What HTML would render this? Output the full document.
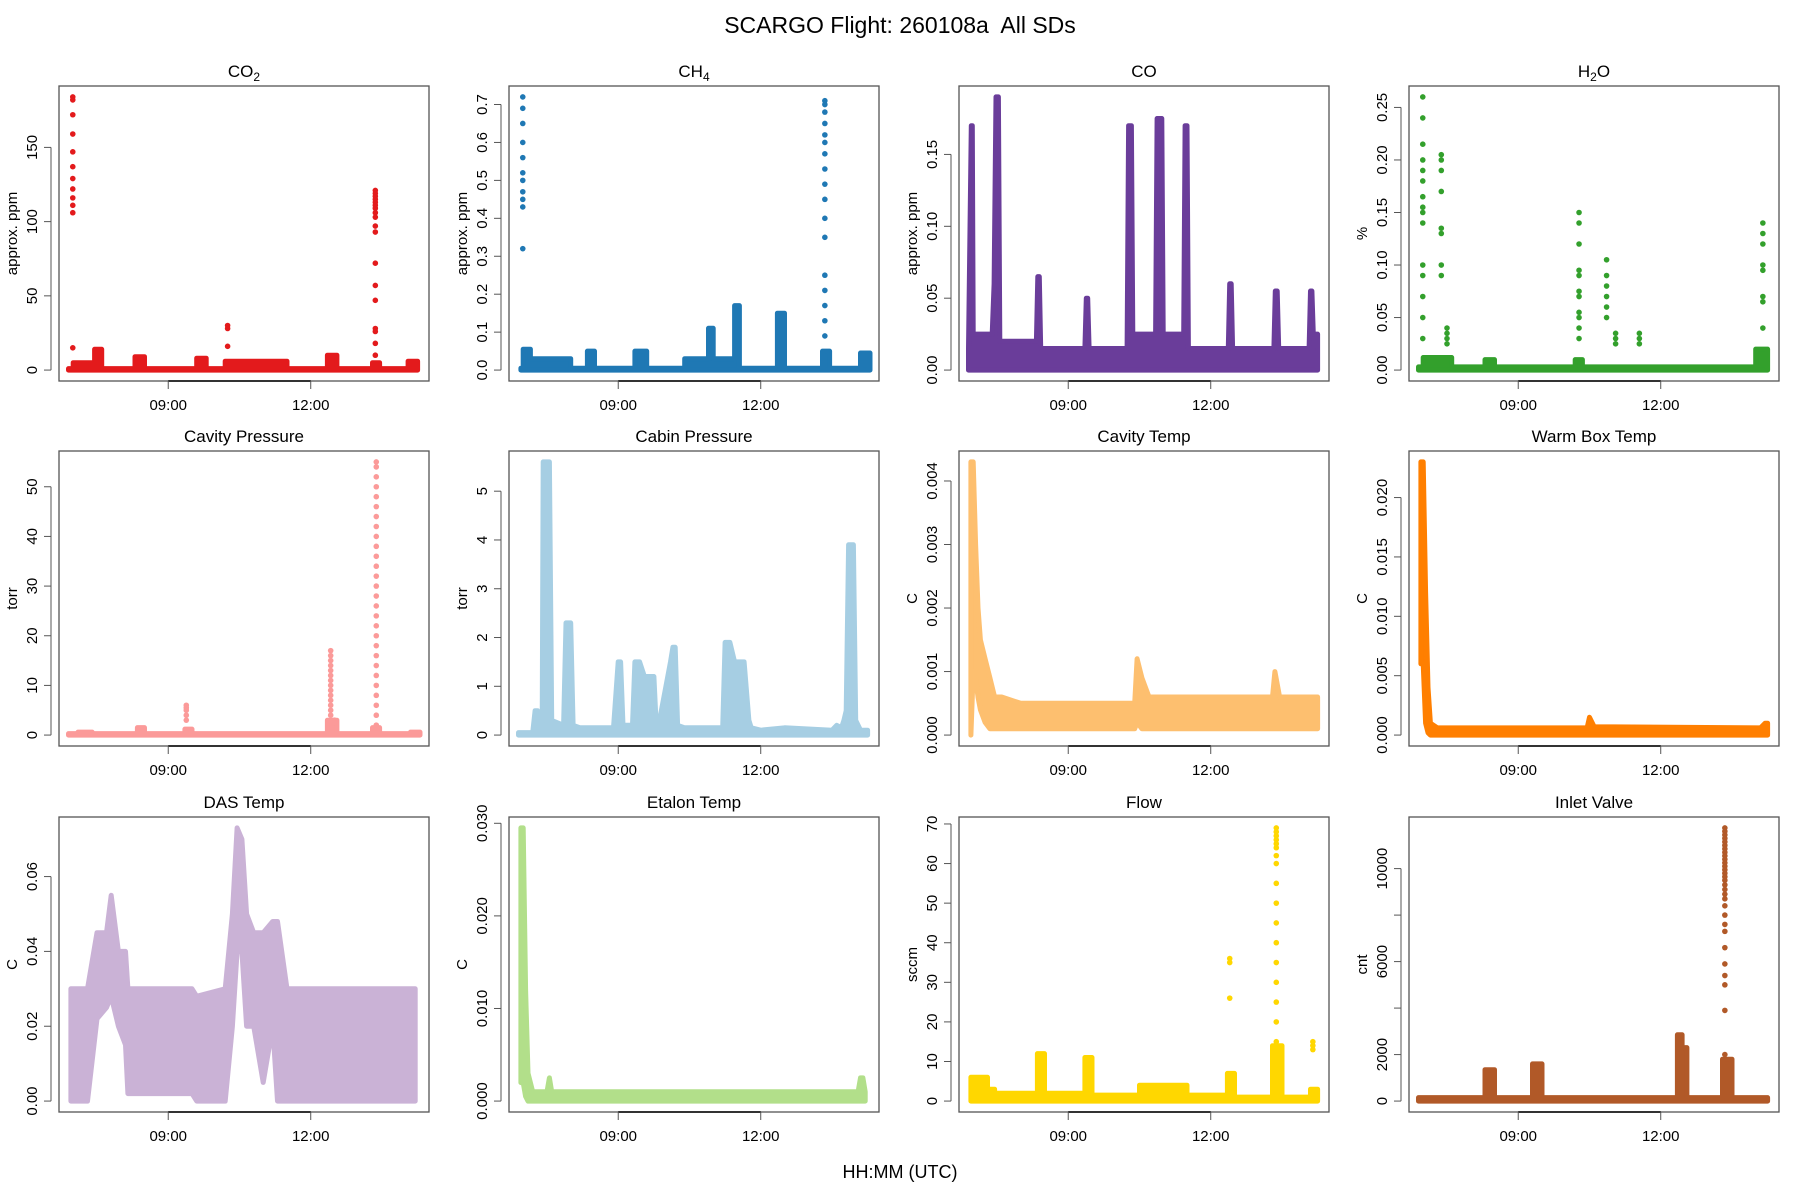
<!DOCTYPE html>
<html><head><meta charset="utf-8"><style>
html,body{margin:0;padding:0;background:#fff;}
svg{display:block;font-family:"Liberation Sans",Arial,sans-serif;}
</style></head><body>
<svg id="fig" width="1800" height="1200" viewBox="0 0 1800 1200">
<text x="900" y="33" text-anchor="middle" font-size="23" fill="#000">SCARGO Flight: 260108a&#160; All SDs</text>
<text x="900" y="1178" text-anchor="middle" font-size="18" fill="#000">HH:MM (UTC)</text>
</svg>
<script>
// ---- x axis (hours UTC) ----
const xTickHours = [9, 12];
const xTickLabels = ["09:00", "12:00"];

// ---- CO2 ----
const co2Times = [6.9,7.0,7.0,7.45,7.45,7.6,7.6,8.3,8.3,8.5,8.5,9.6,9.6,9.8,9.8,10.2,10.2,11.5,11.5,12.35,12.35,12.55,12.55,13.3,13.3,13.45,13.45,14.05,14.05,14.25];
const co2High = [1,1,5,5,14,14,1,1,9,9,1,1,8,8,1,1,6,6,1,1,10,10,1,1,5,5,1,1,6,6];
const co2SpikeTimes = [6.99, 13.36, 10.25];
const co2SpikeValues = [[184,182,172,159,147,137,129,122,116,111,106,15],[121,119,117,115,113,111,109,106,103,97,93,72,57,47,28,26,18,10],[30,28,16]];

// ---- CH4 ----
const ch4Times = [6.95,7.0,7.0,7.15,7.15,8.0,8.0,8.35,8.35,8.5,8.5,9.35,9.35,9.6,9.6,10.4,10.4,10.9,10.9,11.0,11.0,11.45,11.45,11.55,11.55,12.35,12.35,12.5,12.5,13.3,13.3,13.45,13.45,14.1,14.1,14.3];
const ch4High = [0.005,0.005,0.055,0.055,0.03,0.03,0.005,0.005,0.05,0.05,0.005,0.005,0.05,0.05,0.005,0.005,0.03,0.03,0.11,0.11,0.03,0.03,0.17,0.17,0.005,0.005,0.15,0.15,0.005,0.005,0.05,0.05,0.005,0.005,0.045,0.045];
const ch4SpikeTimes = [6.99, 13.35];
const ch4SpikeValues = [[0.72,0.69,0.65,0.60,0.56,0.52,0.50,0.47,0.45,0.43,0.32],[0.71,0.70,0.68,0.65,0.62,0.60,0.57,0.53,0.49,0.45,0.40,0.35,0.25,0.21,0.17,0.13,0.09]];

// ---- CO ----
const coTimes = [6.9,6.96,6.98,7.0,7.4,7.44,7.48,7.53,7.56,8.33,8.36,8.39,8.42,9.35,9.38,9.41,9.44,10.24,10.27,10.33,10.36,10.84,10.87,10.97,11.0,11.43,11.46,11.5,11.53,12.37,12.4,12.43,12.46,13.33,13.36,13.4,13.43,14.07,14.1,14.13,14.16,14.25];
const coHigh = [0.015,0.17,0.17,0.025,0.025,0.06,0.19,0.19,0.02,0.02,0.065,0.065,0.015,0.015,0.05,0.05,0.015,0.015,0.17,0.17,0.025,0.025,0.175,0.175,0.025,0.025,0.17,0.17,0.015,0.015,0.06,0.06,0.015,0.015,0.055,0.055,0.015,0.015,0.055,0.055,0.025,0.025];
const coSpikeTimes = [];
const coSpikeValues = [];

// ---- H2O ----
const h2oTimes = [6.9,7.0,7.0,7.6,7.6,8.3,8.3,8.5,8.5,10.2,10.2,10.35,10.35,14.0,14.0,14.25];
const h2oHigh = [0.003,0.003,0.012,0.012,0.003,0.003,0.01,0.01,0.003,0.003,0.01,0.01,0.003,0.003,0.02,0.02];
const h2oSpikeTimes = [6.99,7.38,7.5,10.28,10.86,11.05,11.55,14.15];
const h2oSpikeValues = [[0.26,0.24,0.215,0.2,0.19,0.18,0.165,0.155,0.15,0.14,0.1,0.09,0.07,0.05,0.03],[0.205,0.2,0.19,0.17,0.135,0.13,0.1,0.09],[0.04,0.035,0.03,0.025],[0.15,0.14,0.12,0.095,0.09,0.075,0.07,0.055,0.05,0.04,0.03],[0.105,0.09,0.08,0.07,0.06,0.05],[0.035,0.03,0.025],[0.035,0.03,0.025],[0.14,0.13,0.12,0.1,0.095,0.07,0.065,0.04]];

// ---- Cavity Pressure ----
const cavpTimes = [6.9,7.1,7.1,7.4,7.4,8.35,8.35,8.5,8.5,9.35,9.35,9.5,9.5,12.35,12.35,12.55,12.55,13.3,13.3,13.45,13.45,14.1,14.1,14.3];
const cavpHigh = [0.3,0.3,0.6,0.6,0.3,0.3,1.5,1.5,0.3,0.3,1.2,1.2,0.3,0.3,3,3,0.3,0.3,1.5,1.5,0.3,0.3,0.6,0.6];
const cavpSpikeTimes = [9.38,12.42,12.5,13.38];
const cavpSpikeValues = [[6,5.5,5,4,3],[17,16,15,14,13,12,11,10,9,8,7,6,5,4],[3,2.5],[55,54,52,50,48,46,44,42,40,38,36,34,32,30,28,26,24,22,20,18,16,14,12,10,8,6,4,2]];

// ---- Cabin Pressure ----
const cabTimes = [6.9,7.2,7.25,7.3,7.35,7.4,7.42,7.55,7.6,7.85,7.9,8.0,8.05,8.2,8.9,9.0,9.05,9.1,9.3,9.35,9.45,9.55,9.75,9.8,9.85,10.1,10.15,10.2,10.25,10.4,11.2,11.25,11.35,11.45,11.65,11.75,11.8,12.0,12.5,13.5,13.6,13.7,13.75,13.8,13.85,13.95,14.0,14.1,14.25];
const cabHigh = [0.05,0.05,0.5,0.5,0.1,0.2,5.6,5.6,0.3,0.2,2.3,2.3,0.2,0.15,0.15,1.5,1.5,0.2,0.2,1.5,1.5,1.2,1.2,0.2,0.2,1.5,1.8,1.8,0.2,0.15,0.15,1.9,1.9,1.5,1.5,0.3,0.15,0.1,0.15,0.1,0.2,0.15,0.3,0.5,3.9,3.9,0.3,0.1,0.1];

// ---- Cavity Temp ----
const cavtTimes = [6.95,7.0,7.05,7.1,7.15,7.25,7.35,7.45,7.6,8.0,10.4,10.45,10.55,10.7,13.3,13.35,13.45,14.25];
const cavtHigh = [0.0043,0.0043,0.003,0.002,0.0015,0.0012,0.0009,0.0006,0.0006,0.0005,0.0005,0.0012,0.0009,0.0006,0.0006,0.001,0.0006,0.0006];
const cavtLow = [0,0.001,0.0009,0.0006,0.0004,0.0002,0.0001,0.0001,0.0001,0.0001,0.0001,0.0002,0.0001,0.0001,0.0001,0.0001,0.0001,0.0001];

// ---- Warm Box Temp ----
const wbTimes = [6.95,7.0,7.05,7.1,7.15,7.3,10.45,10.5,10.6,14.1,14.2,14.25];
const wbHigh = [0.023,0.023,0.012,0.004,0.001,0.0006,0.0006,0.0015,0.0007,0.0006,0.001,0.001];
const wbLow = [0.006,0.006,0.001,0.0002,0,0,0,0,0,0,0,0];

// ---- DAS Temp ----
const dasTimes = [6.95,7.3,7.5,7.7,7.8,7.95,8.1,8.15,9.5,9.6,10.2,10.35,10.45,10.55,10.65,10.8,11.0,11.2,11.3,11.5,11.6,14.2];
const dasHigh = [0.03,0.03,0.045,0.045,0.055,0.04,0.04,0.03,0.03,0.028,0.03,0.05,0.073,0.07,0.05,0.045,0.045,0.048,0.048,0.03,0.03,0.03];
const dasLow = [0,0,0.022,0.025,0.028,0.02,0.015,0.002,0.002,0,0,0.02,0.04,0.04,0.02,0.02,0.005,0.02,0,0,0,0];

// ---- Etalon Temp ----
const etTimes = [6.95,7.0,7.05,7.1,7.2,7.5,7.55,7.6,14.05,14.1,14.15,14.2];
const etHigh = [0.0295,0.0295,0.012,0.003,0.001,0.001,0.0025,0.001,0.001,0.0025,0.0025,0.001];
const etLow = [0.002,0.002,0.0005,0,0,0,0,0,0,0,0,0];

// ---- Flow ----
const flowTimes = [6.95,7.3,7.3,7.45,7.45,8.35,8.35,8.5,8.5,9.35,9.35,9.5,9.5,10.5,10.5,11.5,11.5,12.35,12.35,12.5,12.5,13.3,13.3,13.5,13.5,14.1,14.1,14.25];
const flowHigh = [6,6,3,3,2,2,12,12,2,2,11,11,1.5,1.5,4,4,1.5,1.5,7,7,1,1,14,14,1,1,3,3];
const flowSpikeTimes = [12.4,13.38,14.15];
const flowSpikeValues = [[36,35,26],[69,68,67,66,65,64,62,60,55,50,45,40,35,30,25,20,15],[15,14,13]];

// ---- Inlet Valve ----
const inTimes = [6.9,8.3,8.3,8.5,8.5,9.3,9.3,9.5,9.5,12.35,12.35,12.45,12.45,12.55,12.55,13.3,13.3,13.5,13.5,14.25];
const inHigh = [150,150,1350,1350,150,150,1600,1600,150,150,2850,2850,2300,2300,150,150,1800,1800,150,150];
const inSpikeTimes = [13.35];
const inSpikeValues = [[11750,11600,11450,11300,11150,11000,10850,10700,10550,10400,10250,10100,9950,9800,9650,9500,9300,9100,8900,8700,8400,8000,7600,7300,6600,5900,5400,5000,3900,2000]];

const panels = [
 {id:"co2", title:["CO","2",""], ylab:"approx. ppm", color:"#e31a1c", t:co2Times, hi:co2High, lo:null, st:co2SpikeTimes, sv:co2SpikeValues, ymax:184, ticks:[0,50,100,150], labels:["0","50","100","150"]},
 {id:"ch4", title:["CH","4",""], ylab:"approx. ppm", color:"#1f78b4", t:ch4Times, hi:ch4High, lo:null, st:ch4SpikeTimes, sv:ch4SpikeValues, ymax:0.72, ticks:[0,0.1,0.2,0.3,0.4,0.5,0.6,0.7], labels:["0.0","0.1","0.2","0.3","0.4","0.5","0.6","0.7"]},
 {id:"co", title:["CO","",""], ylab:"approx. ppm", color:"#6a3d9a", t:coTimes, hi:coHigh, lo:null, st:coSpikeTimes, sv:coSpikeValues, ymax:0.19, ticks:[0,0.05,0.1,0.15], labels:["0.00","0.05","0.10","0.15"]},
 {id:"h2o", title:["H","2","O"], ylab:"%", color:"#33a02c", t:h2oTimes, hi:h2oHigh, lo:null, st:h2oSpikeTimes, sv:h2oSpikeValues, ymax:0.26, ticks:[0,0.05,0.1,0.15,0.2,0.25], labels:["0.00","0.05","0.10","0.15","0.20","0.25"]},
 {id:"cavity-pressure", title:["Cavity Pressure","",""], ylab:"torr", color:"#fb9a99", t:cavpTimes, hi:cavpHigh, lo:null, st:cavpSpikeTimes, sv:cavpSpikeValues, ymax:55, ticks:[0,10,20,30,40,50], labels:["0","10","20","30","40","50"]},
 {id:"cabin-pressure", title:["Cabin Pressure","",""], ylab:"torr", color:"#a6cee3", t:cabTimes, hi:cabHigh, lo:null, st:[], sv:[], ymax:5.6, ticks:[0,1,2,3,4,5], labels:["0","1","2","3","4","5"]},
 {id:"cavity-temp", title:["Cavity Temp","",""], ylab:"C", color:"#fdbf6f", t:cavtTimes, hi:cavtHigh, lo:cavtLow, st:[], sv:[], ymax:0.0043, ticks:[0,0.001,0.002,0.003,0.004], labels:["0.000","0.001","0.002","0.003","0.004"]},
 {id:"warm-box-temp", title:["Warm Box Temp","",""], ylab:"C", color:"#ff7f00", t:wbTimes, hi:wbHigh, lo:wbLow, st:[], sv:[], ymax:0.023, ticks:[0,0.005,0.01,0.015,0.02], labels:["0.000","0.005","0.010","0.015","0.020"]},
 {id:"das-temp", title:["DAS Temp","",""], ylab:"C", color:"#cab2d6", t:dasTimes, hi:dasHigh, lo:dasLow, st:[], sv:[], ymax:0.073, ticks:[0,0.02,0.04,0.06], labels:["0.00","0.02","0.04","0.06"]},
 {id:"etalon-temp", title:["Etalon Temp","",""], ylab:"C", color:"#b2df8a", t:etTimes, hi:etHigh, lo:etLow, st:[], sv:[], ymax:0.0295, ticks:[0,0.01,0.02,0.03], labels:["0.000","0.010","0.020","0.030"]},
 {id:"flow", title:["Flow","",""], ylab:"sccm", color:"#ffd700", t:flowTimes, hi:flowHigh, lo:null, st:flowSpikeTimes, sv:flowSpikeValues, ymax:69, ticks:[0,10,20,30,40,50,60,70], labels:["0","10","20","30","40","50","60","70"]},
 {id:"inlet-valve", title:["Inlet Valve","",""], ylab:"cnt", color:"#b15928", t:inTimes, hi:inHigh, lo:null, st:inSpikeTimes, sv:inSpikeValues, ymax:11750, ticks:[0,2000,4000,6000,8000,10000], labels:["0","2000","","6000","","10000"]}
];

const NS = "http://www.w3.org/2000/svg";
const svg = document.getElementById("fig");
function mk(tag, attrs, parent){const e=document.createElementNS(NS,tag);for(const k in attrs)e.setAttribute(k,attrs[k]);(parent||svg).appendChild(e);return e;}

const colLeft=[59,509,959,1409], rowTop=[86,451,817], W=370, H=295;
const xMin=6.70, xMax=14.49;

panels.forEach((p,i)=>{
  const L=colLeft[i%4], T=rowTop[Math.floor(i/4)];
  const g=mk("g",{});
  
  
  const pad=p.ymax*0.04;
  const y0=-pad, y1=p.ymax+pad;
  const sx=t=>L+(t-xMin)/(xMax-xMin)*W;
  const sy=v=>T+H-(v-y0)/(y1-y0)*H;
  const tt=mk("text",{x:L+W/2,y:T-9,"text-anchor":"middle","font-size":17,fill:"#000"},g);
  
  
  tt.appendChild(document.createTextNode(p.title[0]));
  if(p.title[1]){const s=mk("tspan",{"font-size":12,dy:4},tt);s.textContent=p.title[1];
    if(p.title[2]){const s2=mk("tspan",{"font-size":17,dy:-4},tt);s2.textContent=p.title[2];}}
  const n=Math.min(p.t.length,p.hi.length);
  let pts=[];
  for(let k=0;k<n;k++)pts.push(sx(p.t[k]).toFixed(1)+","+sy(p.hi[k]).toFixed(1));
  for(let k=n-1;k>=0;k--){const lv=p.lo?p.lo[k]:0;pts.push(sx(p.t[k]).toFixed(1)+","+sy(lv).toFixed(1));}
  const band=mk("polygon",{points:pts.join(" "),fill:p.color,stroke:p.color,"stroke-width":5,"stroke-linejoin":"round"},g);
  
  
  p.st.forEach((st,j)=>{
    p.sv[j].forEach(v=>{
      const c=mk("circle",{cx:sx(st),cy:sy(v),r:2.8,fill:p.color},g);
      
      
    });
  });
  const box=mk("rect",{x:L,y:T,width:W,height:H,fill:"none",stroke:"#555","stroke-width":1.3},g);
  
  
  const ya=mk("g",{},g);
  
  
  mk("line",{x1:L-8,x2:L-8,y1:sy(p.ticks[0]),y2:sy(p.ticks[p.ticks.length-1]),stroke:"#555","stroke-width":1},ya);
  p.ticks.forEach((tv,k)=>{
    const y=sy(tv);
    mk("line",{x1:L-8,x2:L-15,y1:y,y2:y,stroke:"#555","stroke-width":1},ya);
    if(p.labels[k]){
      const lt=mk("text",{x:L-26,y:y,"text-anchor":"middle","font-size":15,fill:"#000",transform:`rotate(-90 ${L-26} ${y})`,"dominant-baseline":"middle"},ya);
      
      
      lt.textContent=p.labels[k];
    }
  });
  const yl=mk("text",{x:L-46,y:T+H/2,"text-anchor":"middle","font-size":15,fill:"#000",transform:`rotate(-90 ${L-46} ${T+H/2})`,"dominant-baseline":"middle"},g);
  
  
  yl.textContent=p.ylab;
  const xa=mk("g",{},g);
  
  
  mk("line",{x1:sx(xTickHours[0]),x2:sx(xTickHours[xTickHours.length-1]),y1:T+H,y2:T+H,stroke:"#000","stroke-width":1.5},xa);
  xTickHours.forEach((h,k)=>{
    const x=sx(h);
    mk("line",{x1:x,x2:x,y1:T+H,y2:T+H+8,stroke:"#555","stroke-width":1},xa);
    const lt=mk("text",{x:x,y:T+H+29,"text-anchor":"middle","font-size":15,fill:"#000"},xa);
    
    
    lt.textContent=xTickLabels[k];
  });
});
</script>
</body></html>
